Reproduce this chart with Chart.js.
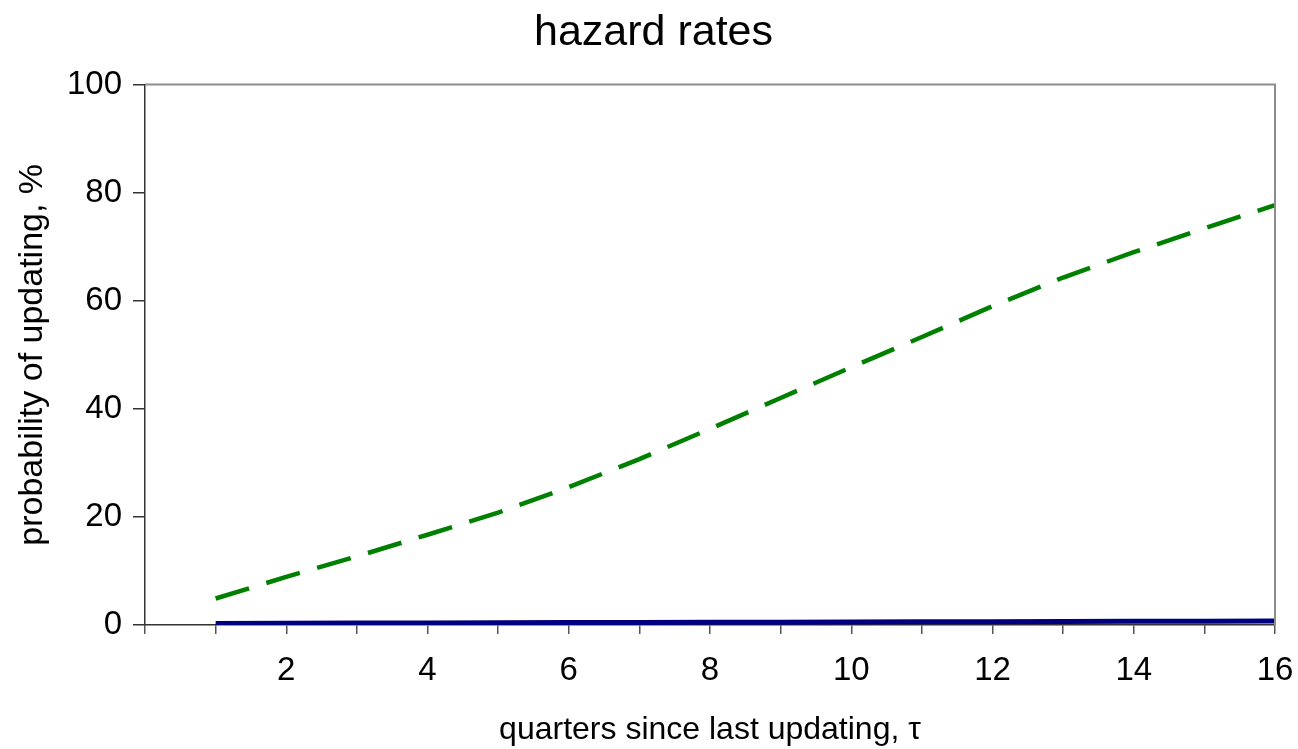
<!DOCTYPE html>
<html>
<head>
<meta charset="utf-8">
<script src="https://cdn.jsdelivr.net/npm/chart.js@4/dist/chart.umd.min.js"></script>
<style>
  html, body { margin: 0; padding: 0; background: #fff; }
  #wrap { width: 1298px; height: 749px; }
</style>
</head>
<body>
<div id="wrap"><canvas id="c" width="1298" height="749"></canvas></div>
<script>
const quarters = [1, 2, 3, 4, 5, 6, 7, 8, 9, 10, 11, 12, 13, 14, 15, 16]
const hazardDashed = [4.9, 8.9, 12.7, 16.7, 20.8, 25.5, 30.7, 36.3, 42.0, 47.7, 53.3, 59.0, 64.3, 69.0, 73.4, 77.7]
const hazardSolid = [0.3, 0.33, 0.35, 0.38, 0.41, 0.44, 0.47, 0.5, 0.53, 0.56, 0.59, 0.62, 0.65, 0.68, 0.71, 0.75]
const xTickLabels = [2, 4, 6, 8, 10, 12, 14, 16]
const yTickLabels = [0, 20, 40, 60, 80, 100]

const font = 'Liberation Sans, Arial, sans-serif'

// gray frame on top and right of the plot area, and title centred on the canvas
const frame = {
  id: 'frame',
  afterLayout(chart) {
    if (chart.titleBlock) {
      chart.titleBlock.left = 32
      chart.titleBlock.right = 1275
    }
  },
  afterDraw(chart) {
    const { ctx, chartArea: a } = chart
    ctx.save()
    ctx.strokeStyle = '#8c8c8c'
    ctx.lineWidth = 2
    ctx.beginPath()
    ctx.moveTo(a.left, a.top)
    ctx.lineTo(a.right, a.top)
    ctx.lineTo(a.right, a.bottom)
    ctx.stroke()
    ctx.restore()
  }
}

new Chart(document.getElementById('c').getContext('2d'), {
  type: 'line',
  data: {
    datasets: [
      {
        data: quarters.map((q, i) => ({ x: q, y: hazardDashed[i] })),
        borderColor: '#008000',
        borderWidth: 4.5,
        borderDash: [35, 18],
        pointRadius: 0,
        tension: 0
      },
      {
        data: quarters.map((q, i) => ({ x: q, y: hazardSolid[i] })),
        borderColor: '#000080',
        borderWidth: 5,
        pointRadius: 0,
        tension: 0
      }
    ]
  },
  plugins: [frame],
  options: {
    responsive: false,
    animation: false,
    layout: { padding: { left: 0, right: 23, top: 0, bottom: 0 } },
    plugins: {
      legend: { display: false },
      tooltip: { enabled: false },
      title: {
        display: true,
        text: 'hazard rates',
        color: '#000',
        font: { family: font, size: 43, weight: 'normal' },
        padding: { top: 7, bottom: 26 }
      }
    },
    scales: {
      x: {
        type: 'linear',
        min: 0,
        max: 16,
        afterFit: (s) => {
          s.height = 124
          s.paddingLeft = 0
          s.paddingRight = 0
        },
        border: { display: true, color: '#333', width: 1.5 },
        grid: { drawOnChartArea: false, drawTicks: true, tickLength: 9, color: '#555', lineWidth: 1.5 },
        ticks: {
          stepSize: 1,
          padding: 17,
          maxRotation: 0,
          autoSkip: false,
          color: '#000',
          font: { family: font, size: 33 },
          callback: (v) => xTickLabels.includes(v) ? String(v) : ''
        },
        title: {
          display: true,
          text: 'quarters since last updating, τ',
          color: '#000',
          font: { family: font, size: 32 },
          padding: { top: 0, bottom: 0 }
        }
      },
      y: {
        min: 0,
        max: 100,
        afterFit: (s) => { s.width = 145 },
        border: { display: true, color: '#333', width: 1.5 },
        grid: { drawOnChartArea: false, drawTicks: true, tickLength: 12, color: '#333', lineWidth: 1.5 },
        ticks: {
          stepSize: 20,
          padding: 11,
          color: '#000',
          font: { family: font, size: 33 },
          callback: (v) => yTickLabels.includes(v) ? String(v) : ''
        },
        title: {
          display: true,
          text: 'probability of updating, %',
          color: '#000',
          font: { family: font, size: 34 },
          padding: { top: 12, bottom: 0 }
        }
      }
    }
  }
})
</script>
</body>
</html>
